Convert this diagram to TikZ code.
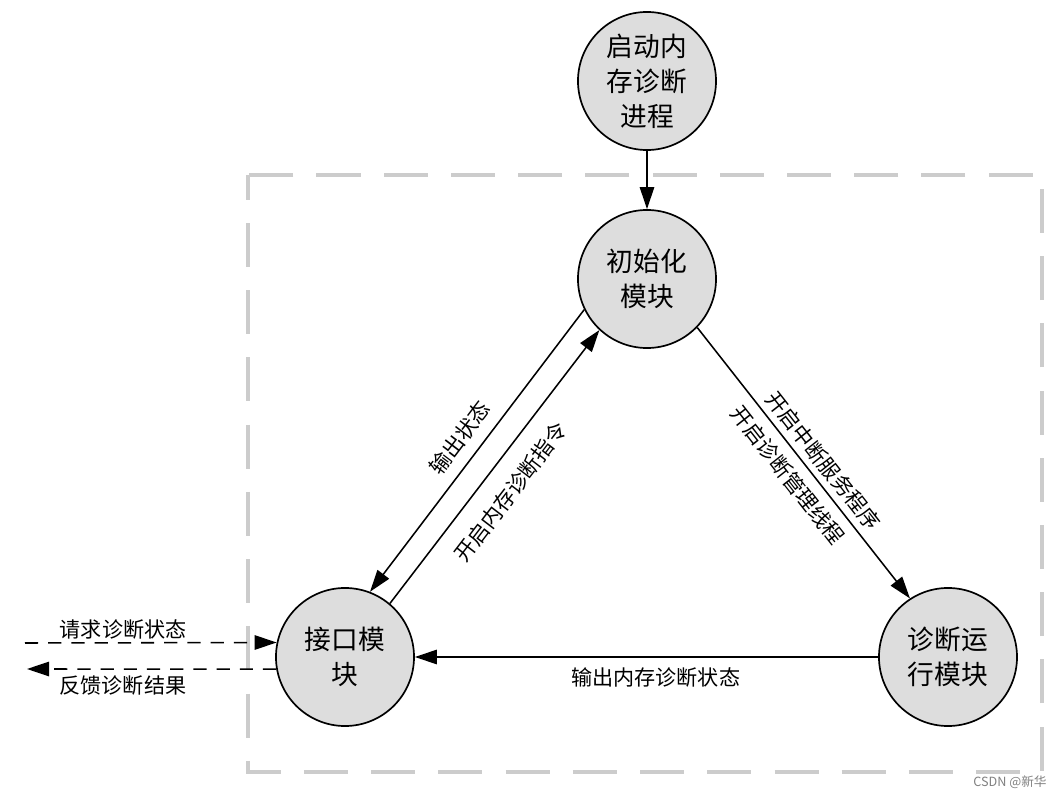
\documentclass[tikz,border=0pt]{standalone}
\usepackage{fontspec}
\setmainfont{Noto Sans CJK SC}
\usetikzlibrary{arrows.meta}
\definecolor{tianchong}{RGB}{221,221,221}
\definecolor{kuangse}{RGB}{204,204,204}
\newcommand{\mokuai}[3]{\node[yuan] (#1) at (#2) {#3};}

\begin{document}
\begin{tikzpicture}[x=0.025cm, y=0.025cm,
  yuan/.style={circle, draw, line width=1.2pt, fill=tianchong, minimum size=3.45cm,
    inner sep=0pt, align=center, font=\fontsize{19}{25}\selectfont},
  jian/.style={-{Triangle[length=0.55cm, width=0.36cm]}, line width=1.1pt},
  xu/.style={jian, dash pattern=on 0.33cm off 0.25cm},
  zi/.style={font=\fontsize{15}{18}\selectfont, inner sep=1pt}]
  \useasboundingbox (0,0) rectangle (1060,792);
  % border of the module
  \draw[kuangse, line width=2.6pt, dash pattern=on 1.1cm off 0.58cm, dash phase=0.48cm]
    (248,617) rectangle (1042,20);
  \mokuai{qidong}{647,711}{启动内\\存诊断\\进程}
  \mokuai{chushi}{647,513}{初始化\\模块}
  \mokuai{jiekou}{345,135}{接口模\\块}
  \mokuai{zhenduan}{948,135}{诊断运\\行模块}
  \coordinate (qingqiu) at (25,149);
  \coordinate (fankui) at (27,123);
  \draw[jian] (qidong) -- (chushi);
  \draw[jian] (chushi.206) -- node[zi, midway, sloped, above=7pt] {输出状态} (jiekou.69);
  \draw[jian] (jiekou.50) -- node[zi, pos=.47, sloped, below=11.5pt] {开启内存诊断指令} (chushi.227);
  \draw[jian] (chushi.-44) -- node[zi, pos=.53, sloped, above=3.5pt] {开启中断服务程序}
    node[zi, midway, sloped, below=5.5pt] {开启诊断管理线程} (zhenduan.123);
  \draw[jian] (zhenduan.west) -- node[zi, pos=.48, below=6.4pt] {输出内存诊断状态} (jiekou.east);
  \draw[xu] (qingqiu) -- node[zi, pos=.39, above=1pt] {请求诊断状态} (jiekou.168);
  \draw[xu] (jiekou.190) -- node[zi, pos=.615, below=3.5pt] {反馈诊断结果} (fankui);
  \node[font=\fontsize{9}{10}\selectfont, text=gray] (shuiyin) at (1010,10) {CSDN @新华};
\end{tikzpicture}
\end{document}
